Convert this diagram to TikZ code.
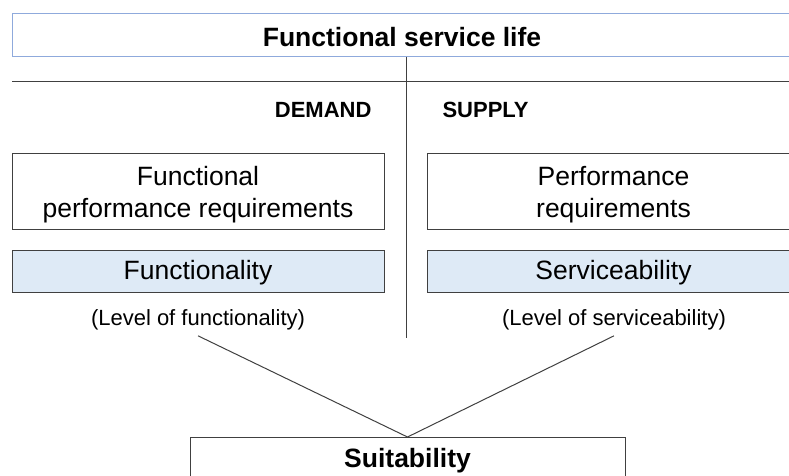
\documentclass[tikz,border=0pt]{standalone}
\usepackage{fontspec}
\setmainfont{Liberation Sans}
\usepackage{tikz}
\usetikzlibrary{positioning}
\definecolor{titleblue}{RGB}{143,170,220}
\definecolor{boxgray}{RGB}{64,64,64}
\definecolor{lightfill}{RGB}{222,234,246}
\newcommand{\bigtxt}{\fontsize{26.5}{32}\selectfont}
\newcommand{\smalltxt}{\fontsize{22}{26}\selectfont}
\newcommand{\topstrut}{\rule{0pt}{25.5pt}}
\tikzstyle{titlebox} = [draw=titleblue, line width=1pt, rectangle, minimum width=780pt, minimum height=43pt, text height=21.5pt, font=\bigtxt\bfseries]
\tikzstyle{reqbox} = [draw=boxgray, line width=1pt, rectangle, align=center, minimum height=76pt, font=\bigtxt]
\tikzstyle{levelbox} = [draw=boxgray, fill=lightfill, line width=1pt, rectangle, minimum height=42pt, text height=23pt, font=\bigtxt]
\tikzstyle{sidelabel} = [font=\smalltxt\bfseries]
\tikzstyle{leveltext} = [text height=20pt, font=\smalltxt]
\tikzstyle{joinline} = [draw=boxgray, line width=1pt]
\begin{document}
\begin{tikzpicture}[x=1pt, y=-1pt]
	\useasboundingbox (0,0) rectangle (789,476);
	\node [titlebox] (life) at (402,35.5) {Functional service life};
	% demand / supply split
	\coordinate (divtop) at (406,57);
	\coordinate (divbot) at (406,338);
	\coordinate (hleft) at (12,82);
	\coordinate (hright) at (789,82);
	\draw [joinline] (divtop) -- (divbot);
	\draw [joinline] (hleft) -- (hright);
	\node [sidelabel, anchor=east] (demand) at (375,110) {DEMAND};
	\node [sidelabel, anchor=west] (supply) at (439,110) {SUPPLY};
	% demand side
	\node [reqbox, minimum width=372pt] (funcreq) at (198,191) {\topstrut Functional\\performance requirements};
	\node [levelbox, minimum width=372pt] (functionality) at (198,271) {Functionality};
	\node [leveltext] (funclevel) at (198,318) {(Level of functionality)};
	% supply side
	\node [reqbox, minimum width=373pt] (perfreq) at (613.5,191) {\topstrut Performance\\requirements};
	\node [levelbox, minimum width=373pt] (serviceability) at (613.5,271) {Serviceability};
	\node [leveltext] (servlevel) at (614,318) {(Level of serviceability)};
	% result
	\node [reqbox, minimum width=435pt, minimum height=44pt, anchor=north, text height=21pt, font=\bigtxt\bfseries] (suit) at (407.5,437) {Suitability};
	\draw [joinline] ([yshift=-2pt]funclevel.south) -- (suit.north);
	\draw [joinline] ([yshift=-2pt]servlevel.south) -- (suit.north);
\end{tikzpicture}
\end{document}
